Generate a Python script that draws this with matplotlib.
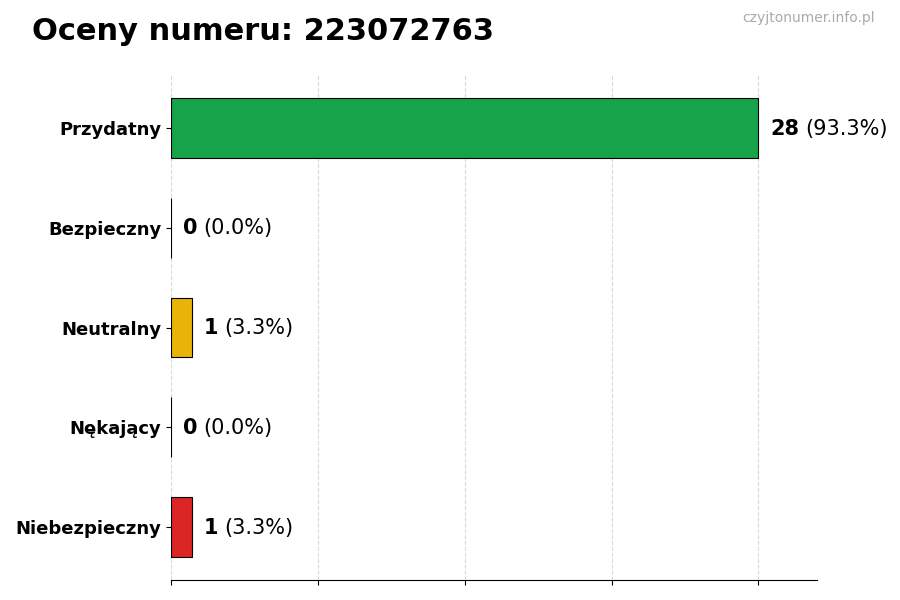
import matplotlib
matplotlib.use("Agg")
import matplotlib.pyplot as plt

categories = ["Przydatny", "Bezpieczny", "Neutralny", "Nękający", "Niebezpieczny"]
counts = [28, 0, 1, 0, 1]
colors = ["#16a34a", "#9ca3af", "#eab308", "#f97316", "#dc2626"]
number = "223072763"

total = sum(counts)

fig = plt.figure(figsize=(9, 6), dpi=100)
ax = fig.add_axes([0.19, 0.0333, 0.718, 0.8417])

ypos = list(range(len(categories)))
ax.barh(ypos, counts, height=0.6, color=colors, edgecolor="black", linewidth=0.8, zorder=2)
ax.set_yticks(ypos)
ax.set_yticklabels(categories, fontsize=13, fontweight="bold")
ax.invert_yaxis()

ax.set_xlim(0, max(counts) * 1.1)
ax.set_xticks([0, 7, 14, 21, 28])
ax.set_xticklabels([])
ax.grid(axis="x", linestyle="--", color="#d9d9d9", linewidth=0.8, zorder=0)

for s in ["top", "right", "left"]:
    ax.spines[s].set_visible(False)

fig.canvas.draw()
renderer = fig.canvas.get_renderer()
for y, c in zip(ypos, counts):
    pct = c / total * 100
    t = ax.annotate(str(c), xy=(c, y), xytext=(8.5, -0.5), textcoords="offset points",
                    va="center", ha="left", fontsize=15, fontweight="bold")
    bb = t.get_window_extent(renderer)
    w_pt = bb.width * 72 / fig.dpi
    ax.annotate(f"({pct:.1f}%)", xy=(c, y), xytext=(8.5 + w_pt + 4.5, -0.5),
                textcoords="offset points", va="center", ha="left", fontsize=15)

fig.text(0.035, 0.947, f"Oceny numeru: {number}", fontsize=22, fontweight="bold",
         va="center", ha="left")
fig.text(0.972, 0.97, "czyjtonumer.info.pl", fontsize=10, color="#aaaaaa",
         va="center", ha="right")

fig.savefig("out.png", dpi=100)
